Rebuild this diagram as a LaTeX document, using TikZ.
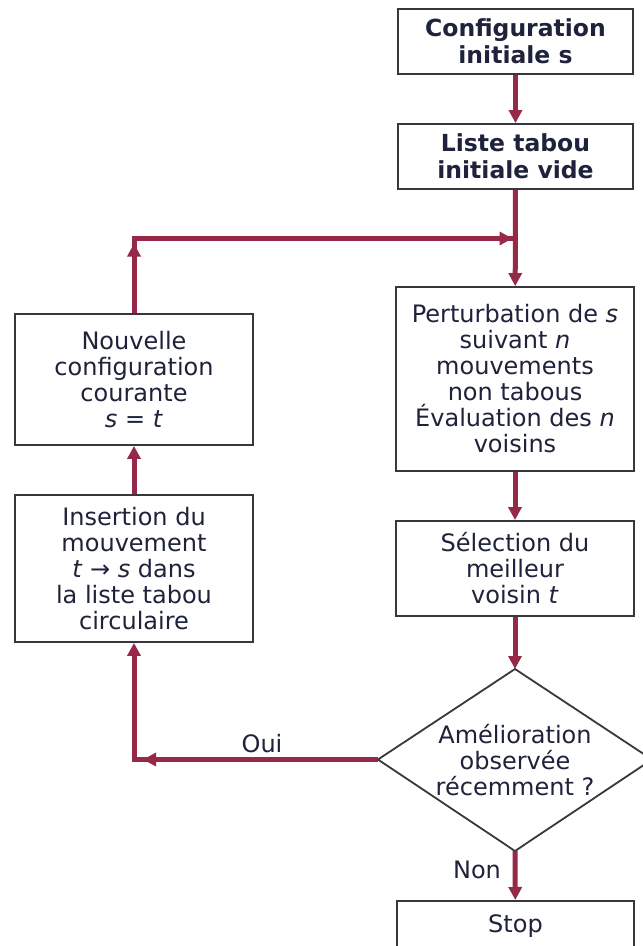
\documentclass[tikz,border=0pt]{standalone}
\usepackage{fontspec}
\setmainfont{DejaVu Sans}
\usetikzlibrary{arrows.meta,calc}
\definecolor{flowred}{RGB}{150,40,72}
\definecolor{inktext}{RGB}{30,34,58}
\definecolor{boxline}{RGB}{55,55,60}
\tikzset{
  stepbox/.style={draw=boxline, line width=1.8pt, fill=white, align=center,
    inner sep=0pt, text=inktext,
    font=\fontsize{24}{26}\selectfont},
  flow/.style={draw=flowred, line width=5pt,
    -{Triangle[length=13pt,width=13pt]}, color=flowred},
  plainflow/.style={draw=flowred, line width=5pt},
  lbl/.style={text=inktext, font=\fontsize{24}{26}\selectfont, inner sep=0pt}
}
\begin{document}
\begin{tikzpicture}[x=1pt,y=-1pt]
\useasboundingbox (0,0) rectangle (643,946);

% right column
\node[stepbox, minimum width=235, minimum height=65, font=\fontsize{23.5}{27}\selectfont\bfseries]
  (init) at (515.5,41.5) {Configuration\\initiale s};
\node[stepbox, minimum width=235, minimum height=65, font=\fontsize{23.5}{27}\selectfont\bfseries]
  (tabu) at (515.5,156.5) {Liste tabou\\initiale vide};
\node[stepbox, minimum width=238, minimum height=184]
  (pert) at (515,379) {Perturbation de \textit{s}\\suivant \textit{n}\\mouvements\\non tabous\\Évaluation des \textit{n}\\voisins};
\node[stepbox, minimum width=238, minimum height=95]
  (sel) at (515,568.5) {Sélection du\\meilleur\\voisin \textit{t}};

% decision diamond
\coordinate (dtop) at (515,669);
\coordinate (dright) at (652,759.5);
\coordinate (dbot) at (515,851);
\coordinate (dleft) at (378,759.5);
\draw[boxline, line width=1.8pt, line join=miter] (dtop) -- (dright) -- (dbot) -- (dleft) -- cycle;
\node[lbl, align=center] (dtext) at (515,760) {Amélioration\\observée\\récemment ?};

% stop box (runs off the bottom edge)
\node[stepbox, minimum width=237, minimum height=54, anchor=north]
  (stop) at (515.5,900) {};
\node[lbl] (stoptxt) at (515.5,926) {Stop};

% left column
\node[stepbox, minimum width=238, minimum height=131]
  (nouv) at (134,379.5) {Nouvelle\\configuration\\courante\\\textit{s} = \textit{t}};
\node[stepbox, minimum width=238, minimum height=147]
  (ins) at (134,568.5) {Insertion du\\mouvement\\\textit{t} → \textit{s} dans\\la liste tabou\\circulaire};

% loop corners
\coordinate (join) at (515,238.5);
\coordinate (cl) at (134,238.5);
\coordinate (ol) at (134,759.5);

% connectors
\draw[flow] (init) -- (tabu);
\draw[flow] (tabu) -- (pert);
\draw[flow] (pert) -- (sel);
\draw[flow] (sel) -- (dtop);
\draw[flow] (dbot) -- (stop);
\draw[flow] (ins) -- (nouv);

\draw[plainflow] (nouv.north) -- (cl);
\draw[flow, shorten >=5pt] (nouv.north) -- (cl);
\draw[plainflow] ([xshift=-2.5pt]cl) -- (join);
\draw[flow, shorten >=2.5pt] (cl) -- (join);

\draw[plainflow] (dleft) -- ([xshift=-2.5pt]ol) ;
\draw[flow, shorten >=9pt] (dleft) -- (ol);
\draw[flow] (ol) -- (ins.south);

% branch labels
\node[lbl] (oui) at (262,744) {Oui};
\node[lbl] (non) at (477,870) {Non};
\end{tikzpicture}
\end{document}
